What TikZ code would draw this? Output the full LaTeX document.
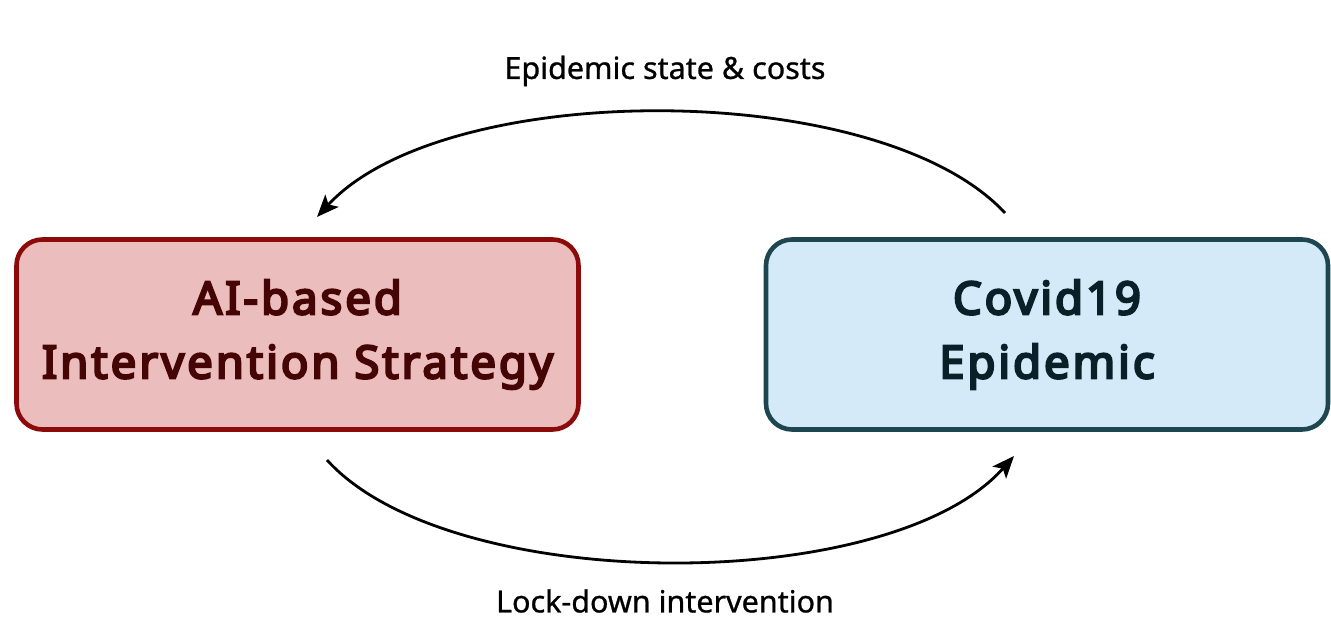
\documentclass[tikz,border=0pt]{standalone}
\usepackage{fontspec}
\setmainfont{Noto Sans}
\newfontfamily\boxfont{Noto Sans}[FakeBold=5, LetterSpace=6.5]
\newfontfamily\lblfont{Noto Sans}[FakeBold=0.8]
\usetikzlibrary{arrows.meta}
\definecolor{redfill}{HTML}{EBBDBD}
\definecolor{redline}{HTML}{8C0A0A}
\definecolor{redtext}{HTML}{450505}
\definecolor{bluefill}{HTML}{D5EAF8}
\definecolor{blueline}{HTML}{1E4650}
\definecolor{bluetext}{HTML}{0A2028}
\tikzset{
  x=1pt, y=1pt,
  box/.style={draw, line width=4.6pt, rounded corners=26pt, minimum width=562pt, minimum height=190pt,
    align=center, font=\boxfont\fontsize{45.5}{64}\selectfont, inner sep=0pt},
  flow/.style={line width=2.8pt, -{Stealth[length=22pt, width=18pt, inset=5pt]}},
  lbl/.style={font=\lblfont\fontsize{30.5}{36}\selectfont, inner sep=0pt}
}
\begin{document}
\begin{tikzpicture}
\useasboundingbox (0,0) rectangle (1331,642);
\node[box, fill=redfill, draw=redline, text=redtext] (ai) at (297.5,307.5) {AI-based\\Intervention Strategy};
\node[box, fill=bluefill, draw=blueline, text=bluetext] (cv) at (1047,307.5) {Covid19\\Epidemic};
\coordinate (t1) at (1005,429);
\coordinate (t2) at (317,425);
\coordinate (b1) at (327,182);
\coordinate (b2) at (1014,186);
\draw[flow] (t1) .. controls (880,564) and (445,564) .. (t2);
\draw[flow] (b1) .. controls (450,46) and (890,46) .. (b2);
\node[lbl] (top) at (665,571) {Epidemic state \& costs};
\node[lbl] (bot) at (665,41) {Lock-down intervention};
\end{tikzpicture}
\end{document}
